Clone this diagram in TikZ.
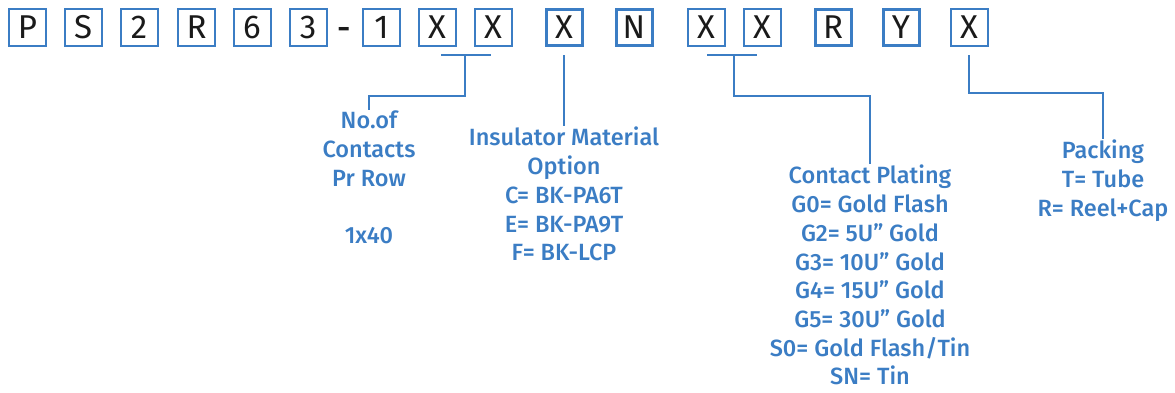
\documentclass[tikz,border=0pt]{standalone}
\usepackage{fontspec}
\setmainfont{Fira Sans}
\newfontfamily\legendfont{Fira Sans Medium}
\usepackage{tikz}
\usetikzlibrary{positioning, calc}

\definecolor{codeblue}{HTML}{3B7DC4}
\definecolor{codeink}{HTML}{1A1A1A}

\begin{document}
\begin{tikzpicture}[x=1pt, y=-1pt,
        digit/.style ={draw=codeblue, line width=2pt, minimum size=37pt, inner sep=0pt,
                       text=codeink, font=\fontsize{33}{33}\selectfont},
        pick/.style  ={digit, line width=3pt, minimum size=36pt},
        lead/.style  ={draw=codeblue, line width=2.5pt},
        legend/.style={text=codeblue, align=center, anchor=north, inner sep=1pt,
                       font=\legendfont\fontsize{23.5}{28.7}\selectfont}]
                    \useasboundingbox (0,0) rectangle (1175,392);

                    \node [digit] (p)     at ( 27.5,27.5) {P};
                    \node [digit] (s)     at ( 83  ,27.5) {S};
                    \node [digit] (two)   at (139  ,27.5) {2};
                    \node [digit] (r)     at (196.5,27.5) {R};
                    \node [digit] (six)   at (252  ,27.5) {6};
                    \node [digit] (three) at (308  ,27.5) {3};
                    \node [text=codeink, font=\legendfont\fontsize{33}{33}\selectfont, anchor=base]
                                  (dash)  at (344  ,39.5) {-};
                    \node [digit] (one)   at (381.5,27.5) {1};
                    \node [digit] (cnta)  at (437  ,27.5) {X};
                    \node [digit] (cntb)  at (493  ,27.5) {X};
                    \node [pick]  (ins)   at (564  ,27.5) {X};
                    \node [pick]  (n)     at (634  ,27.5) {N};
                    \node [digit] (plta)  at (706  ,27.5) {X};
                    \node [digit] (pltb)  at (762  ,27.5) {X};
                    \node [pick]  (rr)    at (833  ,27.5) {R};
                    \node [pick]  (y)     at (901  ,27.5) {Y};
                    \node [digit] (pack)  at (969  ,27.5) {X};

                    \node [legend] (contacts) at ( 369,110) {No.of\\Contacts\\Pr Row\\[28.7pt]1x40};
                    \node [legend] (material) at ( 564,126) {Insulator Material\\Option\\C= BK-PA6T\\E= BK-PA9T\\F= BK-LCP};
                    \node [legend] (plating)  at ( 870,164) {Contact Plating\\G0= Gold Flash\\G2= 5U” Gold\\G3= 10U” Gold\\G4= 15U” Gold\\G5= 30U” Gold\\S0= Gold Flash/Tin\\SN= Tin};
                    \node [legend] (packing)  at (1103,139) {Packing\\T= Tube\\R= Reel+Cap};

                    \coordinate (cnt mid) at ($(cnta.south)!0.5!(cntb.south)+(0,8)$);
                    \coordinate (plt mid) at ($(plta.south)!0.5!(pltb.south)+(0,8)$);

                    \draw [lead] ([xshift= 4pt,yshift=-8pt]cnta.south) -- ([xshift=-2pt,yshift=-8pt]cntb.south);
                    \draw [lead] (cnt mid) -- ++(0,41) -| (contacts.north);
                    \draw [lead] ([yshift=-8pt]ins.south) -- (material.north);
                    \draw [lead] ([xshift= 1pt,yshift=-8pt]plta.south) -- ([xshift=-5pt,yshift=-8pt]pltb.south);
                    \draw [lead] (plt mid) -- ++(0,41) -| (plating.north);
                    \draw [lead] ([yshift=-8pt]pack.south) -- ++(0,38) -| (packing.north);
                \end{tikzpicture}
\end{document}
